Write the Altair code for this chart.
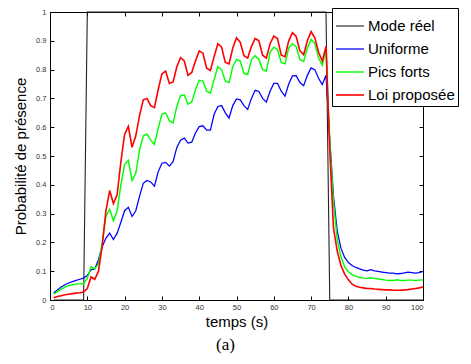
import altair as alt
import pandas as pd

t = list(range(1, 101))

uniforme = [
    0.025, 0.035, 0.045, 0.053, 0.059, 0.064, 0.068, 0.072, 0.076, 0.085,
    0.105, 0.108, 0.140, 0.185, 0.215, 0.232, 0.210, 0.232, 0.270, 0.310,
    0.322, 0.290, 0.310, 0.360, 0.405, 0.415, 0.410, 0.395, 0.445, 0.475,
    0.478, 0.465, 0.480, 0.530, 0.555, 0.562, 0.545, 0.548, 0.580, 0.602,
    0.605, 0.590, 0.590, 0.645, 0.672, 0.675, 0.650, 0.632, 0.675, 0.698,
    0.695, 0.675, 0.662, 0.700, 0.728, 0.724, 0.700, 0.687, 0.725, 0.752,
    0.752, 0.725, 0.708, 0.750, 0.778, 0.779, 0.755, 0.744, 0.780, 0.806,
    0.800, 0.770, 0.748, 0.780, 0.560, 0.360, 0.240, 0.180, 0.148, 0.130,
    0.120, 0.113, 0.108, 0.104, 0.101, 0.105, 0.101, 0.099, 0.097, 0.095,
    0.093, 0.093, 0.091, 0.092, 0.094, 0.097, 0.095, 0.093, 0.095, 0.099,
]

pics_forts = [
    0.020, 0.030, 0.038, 0.045, 0.050, 0.053, 0.055, 0.056, 0.057, 0.075,
    0.115, 0.108, 0.125, 0.200, 0.290, 0.315, 0.275, 0.310, 0.400, 0.470,
    0.485, 0.415, 0.440, 0.520, 0.570, 0.576, 0.555, 0.540, 0.595, 0.645,
    0.650, 0.622, 0.615, 0.672, 0.710, 0.712, 0.680, 0.688, 0.730, 0.763,
    0.760, 0.725, 0.718, 0.765, 0.810, 0.800, 0.760, 0.755, 0.810, 0.835,
    0.830, 0.787, 0.783, 0.835, 0.848, 0.835, 0.800, 0.795, 0.860, 0.878,
    0.870, 0.825, 0.820, 0.875, 0.890, 0.880, 0.835, 0.828, 0.875, 0.905,
    0.890, 0.840, 0.815, 0.870, 0.550, 0.340, 0.210, 0.150, 0.115, 0.098,
    0.088, 0.082, 0.078, 0.076, 0.075, 0.077, 0.075, 0.073, 0.071, 0.069,
    0.068, 0.068, 0.070, 0.068, 0.068, 0.069, 0.069, 0.068, 0.069, 0.070,
]

loi_proposee = [
    0.008, 0.012, 0.015, 0.018, 0.020, 0.022, 0.024, 0.025, 0.028, 0.040,
    0.080, 0.072, 0.100, 0.190, 0.310, 0.380, 0.335, 0.365, 0.480, 0.575,
    0.603, 0.530, 0.570, 0.640, 0.695, 0.700, 0.675, 0.668, 0.730, 0.785,
    0.795, 0.752, 0.757, 0.810, 0.842, 0.830, 0.780, 0.790, 0.830, 0.865,
    0.857, 0.805, 0.797, 0.845, 0.890, 0.878, 0.825, 0.820, 0.875, 0.910,
    0.895, 0.848, 0.840, 0.880, 0.908, 0.900, 0.850, 0.840, 0.890, 0.916,
    0.908, 0.850, 0.845, 0.900, 0.928, 0.915, 0.865, 0.852, 0.900, 0.932,
    0.910, 0.860, 0.830, 0.880, 0.520, 0.250, 0.170, 0.120, 0.090, 0.070,
    0.055, 0.048, 0.044, 0.042, 0.040, 0.040, 0.038, 0.037, 0.036, 0.035,
    0.035, 0.034, 0.034, 0.034, 0.035, 0.036, 0.038, 0.040, 0.042, 0.045,
]

mode_t = [1, 9, 10, 74, 75, 100]
mode_p = [0, 0, 1, 1, 0, 0]

series = ["Mode réel", "Uniforme", "Pics forts", "Loi proposée"]
colors = ["#222222", "#0000ff", "#00ff00", "#ff0000"]
widths = [1.1, 1.6, 1.6, 1.6]

x_ticks = [0, 10, 20, 30, 40, 50, 60, 70, 80, 90, 100]
y_ticks = [0, 0.1, 0.2, 0.3, 0.4, 0.5, 0.6, 0.7, 0.8, 0.9, 1]

rows = []
for a, b in zip(mode_t, mode_p):
    rows.append({"t": a, "p": b, "s": series[0]})
for name, vals in zip(series[1:], [uniforme, pics_forts, loi_proposee]):
    for a, b in zip(t, vals):
        rows.append({"t": a, "p": b, "s": name})
df = pd.DataFrame(rows)

W, H = 373, 288
xs = alt.Scale(domain=[0, 100], nice=False, zero=False)
ys = alt.Scale(domain=[0, 1], nice=False, zero=False)
FONT = "Liberation Sans"

base = alt.Chart(df)

lines = base.mark_line().encode(
    x=alt.X("t:Q", scale=xs, axis=alt.Axis(
        values=x_ticks, title="temps (s)", ticks=False, domain=False, grid=False,
        labelPadding=3, titlePadding=4)),
    y=alt.Y("p:Q", scale=ys, axis=alt.Axis(
        values=y_ticks, format="~g", title="Probabilité de présence", ticks=False,
        domain=False, grid=False, labelPadding=4, titlePadding=7)),
    color=alt.Color("s:N", sort=series, scale=alt.Scale(domain=series, range=colors),
                    legend=alt.Legend(
                        title=None, orient="none", legendX=282, legendY=-4,
                        fillColor="white", strokeColor="black", padding=3,
                        labelFontSize=15, labelFont=FONT, labelColor="black",
                        symbolType="stroke", symbolStrokeWidth=1.5, symbolSize=784,
                        labelOffset=3, rowPadding=0)),
    strokeWidth=alt.StrokeWidth("s:N", sort=series,
                                scale=alt.Scale(domain=series, range=widths),
                                legend=None),
)

ticks_in_a = base.mark_point(opacity=0).encode(
    x=alt.X("t:Q", scale=xs, axis=alt.Axis(
        orient="top", offset=-H, values=x_ticks, labels=False, title=None,
        domain=False, grid=False, tickSize=4, tickColor="black")),
    y=alt.Y("p:Q", scale=ys, axis=alt.Axis(
        orient="right", offset=-W, values=y_ticks, labels=False, title=None,
        domain=False, grid=False, tickSize=4, tickColor="black")),
)

ticks_in_b = base.mark_point(opacity=0).encode(
    x=alt.X("t:Q", scale=xs, axis=alt.Axis(
        orient="bottom", offset=-H, values=x_ticks, labels=False, title=None,
        domain=False, grid=False, tickSize=4, tickColor="black")),
    y=alt.Y("p:Q", scale=ys, axis=alt.Axis(
        orient="left", offset=-W, values=y_ticks, labels=False, title=None,
        domain=False, grid=False, tickSize=4, tickColor="black")),
)

chart = alt.layer(lines, ticks_in_a, ticks_in_b).resolve_axis(
    x="independent", y="independent"
).properties(
    width=W, height=H,
    autosize=alt.AutoSizeParams(type="none"),
    padding={"left": 42, "top": 4, "right": 40, "bottom": 55},
    title=alt.TitleParams("(a)", orient="bottom", font="Liberation Serif",
                          fontSize=17, fontWeight="normal", color="black",
                          anchor="middle", dx=-11, offset=7),
).configure_view(
    stroke="black", strokeWidth=1
).configure_axis(
    labelFont=FONT, labelFontSize=7.5, labelColor="#333333",
    titleFont=FONT, titleFontSize=15, titleFontWeight="normal", titleColor="black",
)

chart.save("out.html", embed_options={"renderer": "svg", "actions": False})
